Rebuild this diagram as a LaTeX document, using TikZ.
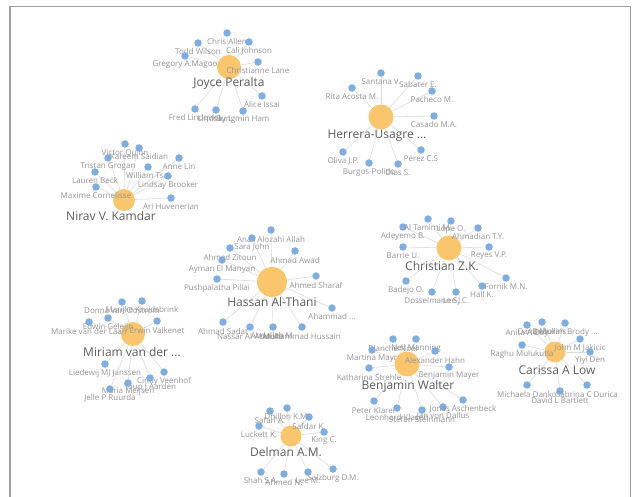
\documentclass[tikz,border=0pt]{standalone}
\usepackage{fontspec}
\setmainfont{Open Sans}
\definecolor{hubfill}{HTML}{F9C66E}
\definecolor{dotfill}{HTML}{80ADDF}
\definecolor{edgegray}{HTML}{DCDCDC}
\definecolor{lblgray}{HTML}{959595}
\definecolor{hubtext}{HTML}{5E5E5E}
\definecolor{framegray}{HTML}{A0A0A0}
% shortened names end in three dots
\newcommand\truncdots{...}
\begin{document}
\begin{tikzpicture}[x=1pt,y=-1pt,
  hub/.style={circle,fill=hubfill,inner sep=0pt,minimum size=#1},
  dot/.style={circle,fill=dotfill,inner sep=0pt,minimum size=7.5pt},
  edge/.style={draw=edgegray,line width=0.6pt},
  lbl/.style={font=\fontsize{8}{9}\selectfont,text=lblgray,inner sep=0pt},
  hublbl/.style={font=\fontsize{12}{14}\selectfont,text=hubtext,inner sep=0pt},
  frameline/.style={draw=framegray,line width=1.2pt}]
\fill[white] (0,0) rectangle (637,497);
\useasboundingbox (0,0) rectangle (637,497);
\draw[frameline] (10,497) -- (10,6.5) -- (630.5,6.5) -- (630.5,497);

% Joyce Peralta
\node[hub=24pt] (h1) at (229,67) {};
\foreach \px/\py/\txt [count=\k] in {198/43/Todd Wilson, 227/33/Chris Allen, 249/42/Cali Johnson,
  185/56/Gregory A.Magoo, 258/62/Christianne Lane, 262/96/Alice Issai,
  195/109/Fred Lindqvist, 216/110/Lindsay L., 243/111/Sungmin Ham}{
  \node[dot] (a\k) at (\px,\py) {};
  \draw[edge] (h1) -- (a\k);
  \node[lbl] (a\k t) at (\px,\py+9) {\txt};
}
\node[hublbl] (h1t) at (229,83) {Joyce Peralta};

% Herrera-Usagre
\node[hub=25pt] (h2) at (381,117) {};
\foreach \px/\py/\txt [count=\k] in {381/73/Santana V., 418/76/Sabater E., 352/88/Rita Acosta M.,
  432/91/Pacheco M., 434/116/Casado M.A., 421/150/Perez C.S, 343/152/Oliva J.P.,
  369/163/Burgos-Polido, 398/164/Dias S.}{
  \node[dot] (b\k) at (\px,\py) {};
  \draw[edge] (h2) -- (b\k);
  \node[lbl] (b\k t) at (\px,\py+9) {\txt};
}
\node[hublbl] (h2t) at (377,136) {Herrera-Usagre ...};

% Nirav V. Kamdar
\node[hub=22pt] (h3) at (124,200) {};
\foreach \px/\py/\txt [count=\k] in {125/144/Victor Quinn, 139/148/Kareem Saidian, 108/158/Tristan Grogan,
  179/158/Anne Lin, 148/167/William Tsai, 95/172/Lauren Beck, 168/176/Lindsay Brooker,
  96/187/Maxime Cornelisse, 171/198/Ari Huvenerian}{
  \node[dot] (c\k) at (\px,\py) {};
  \draw[edge] (h3) -- (c\k);
  \node[lbl] (c\k t) at (\px,\py+9) {\txt};
}
\node[hublbl] (h3t) at (111,216) {Nirav V. Kamdar};

% Christian Z.K.
\node[hub=25pt] (h4) at (449,248) {};
\foreach \px/\py/\txt [count=\k] in {403/227/Adeyemo B., 428/219/Al Tamimi M., 451/221/Lope O.,
  478/228/Ahmadian T.Y., 403/247/Barrie U., 489/247/Reyes V.P., 406/281/Badejo O.,
  432/292/Dosselmann S., 456/292/Lee J.C., 482/286/Hall K., 506/278/Fornik M.N.}{
  \node[dot] (d\k) at (\px,\py) {};
  \draw[edge] (h4) -- (d\k);
  \node[lbl] (d\k t) at (\px,\py+9) {\txt};
}
\node[hublbl] (h4t) at (442,266) {Christian Z.K.};

% Hassan Al-Thani
\node[hub=30pt] (h5) at (272,282) {};
\foreach \px/\py/\txt [count=\k] in {271/230/Anas Alozahi Allah, 252/238/Sara John, 230/248/Ahmad Zitoun,
  295/251/Ahmad Awad, 222/260/Ayman El Manyan, 217/279/Pushpalatha Pillai,
  316/276/Ahmed Sharaf, 332/308/Ahammad \truncdots, 223/322/Ahmad Sadat,
  250/327/Nassar Al-Abdulla, 273/327/Abdallah M., 302/327/Mohammad Hussain}{
  \node[dot] (e\k) at (\px,\py) {};
  \draw[edge] (h5) -- (e\k);
  \node[lbl] (e\k t) at (\px,\py+9) {\txt};
}
\node[hublbl] (h5t) at (272,302) {Hassan Al-Thani};

% Miriam van der ...
\node[hub=24pt] (h6) at (133,334) {};
\foreach \px/\py/\txt [count=\k] in {122/302/Donna van Oostrom, 142/301/Marijke Kruidsbrink,
  108/318/Edwin Geleijn, 89/322/Marike van der Laan, 157/321/Erwin Valkenet,
  105/364/Liedewij MJ Janssen, 164/372/Cindy Veenhof, 150/378/Youp J Aarden,
  128/383/Maria Meijsen, 110/389/Jelle P Ruurda}{
  \node[dot] (f\k) at (\px,\py) {};
  \draw[edge] (h6) -- (f\k);
  \node[lbl] (f\k t) at (\px,\py+9) {\txt};
}
\node[hublbl] (h6t) at (132,352) {Miriam van der ...};

% Benjamin Walter
\node[hub=25pt] (h7) at (407,364) {};
\foreach \px/\py/\txt [count=\k] in {393/339/Blanche Noel, 416/339/Neil Manning, 372/350/Martina Mayr,
  435/351/Alexander Hahn, 369/368/Katharina Strehle, 449/367/Benjamin Mayer,
  374/401/Peter Klarer, 397/408/Leonhard Klasen, 422/410/Stefan Steinmann,
  443/407/Jan von Dallus, 463/400/Jonas Aschenbeck}{
  \node[dot] (g\k) at (\px,\py) {};
  \draw[edge] (h7) -- (g\k);
  \node[lbl] (g\k t) at (\px,\py+9) {\txt};
}
\node[hublbl] (h7t) at (408,386) {Benjamin Walter};

% Carissa A Low
\node[hub=21pt] (h8) at (555,352) {};
\foreach \px/\py/\txt [count=\k] in {527/325/Anita A Dey, 542/322/Dana Mullins, 565/323/Deborah Brody \truncdots,
  580/339/John M Jakicic, 522/345/Raghu Mulukutla, 590/352/Yiyi Den,
  527/385/Michaela Danko, 560/391/David L Bartlett, 587/385/Sabrina C Durica}{
  \node[dot] (p\k) at (\px,\py) {};
  \draw[edge] (h8) -- (p\k);
  \node[lbl] (p\k t) at (\px,\py+9) {\txt};
}
\node[hublbl] (h8t) at (557,370) {Carissa A Low};

% Delman A.M.
\node[hub=21pt] (h9) at (291,436) {};
\foreach \px/\py/\txt [count=\k] in {270/411/Safari A., 287/408/Dhillon K.M., 309/417/Safdar K.,
  259/426/Luckett K., 324/432/King C., 261/472/Shah S.A., 284/474/Ahmed N.,
  308/472/Lee M., 333/469/Salzburg D.M.}{
  \node[dot] (q\k) at (\px,\py) {};
  \draw[edge] (h9) -- (q\k);
  \node[lbl] (q\k t) at (\px,\py+9) {\txt};
}
\node[hublbl] (h9t) at (286,452) {Delman A.M.};
\end{tikzpicture}
\end{document}
